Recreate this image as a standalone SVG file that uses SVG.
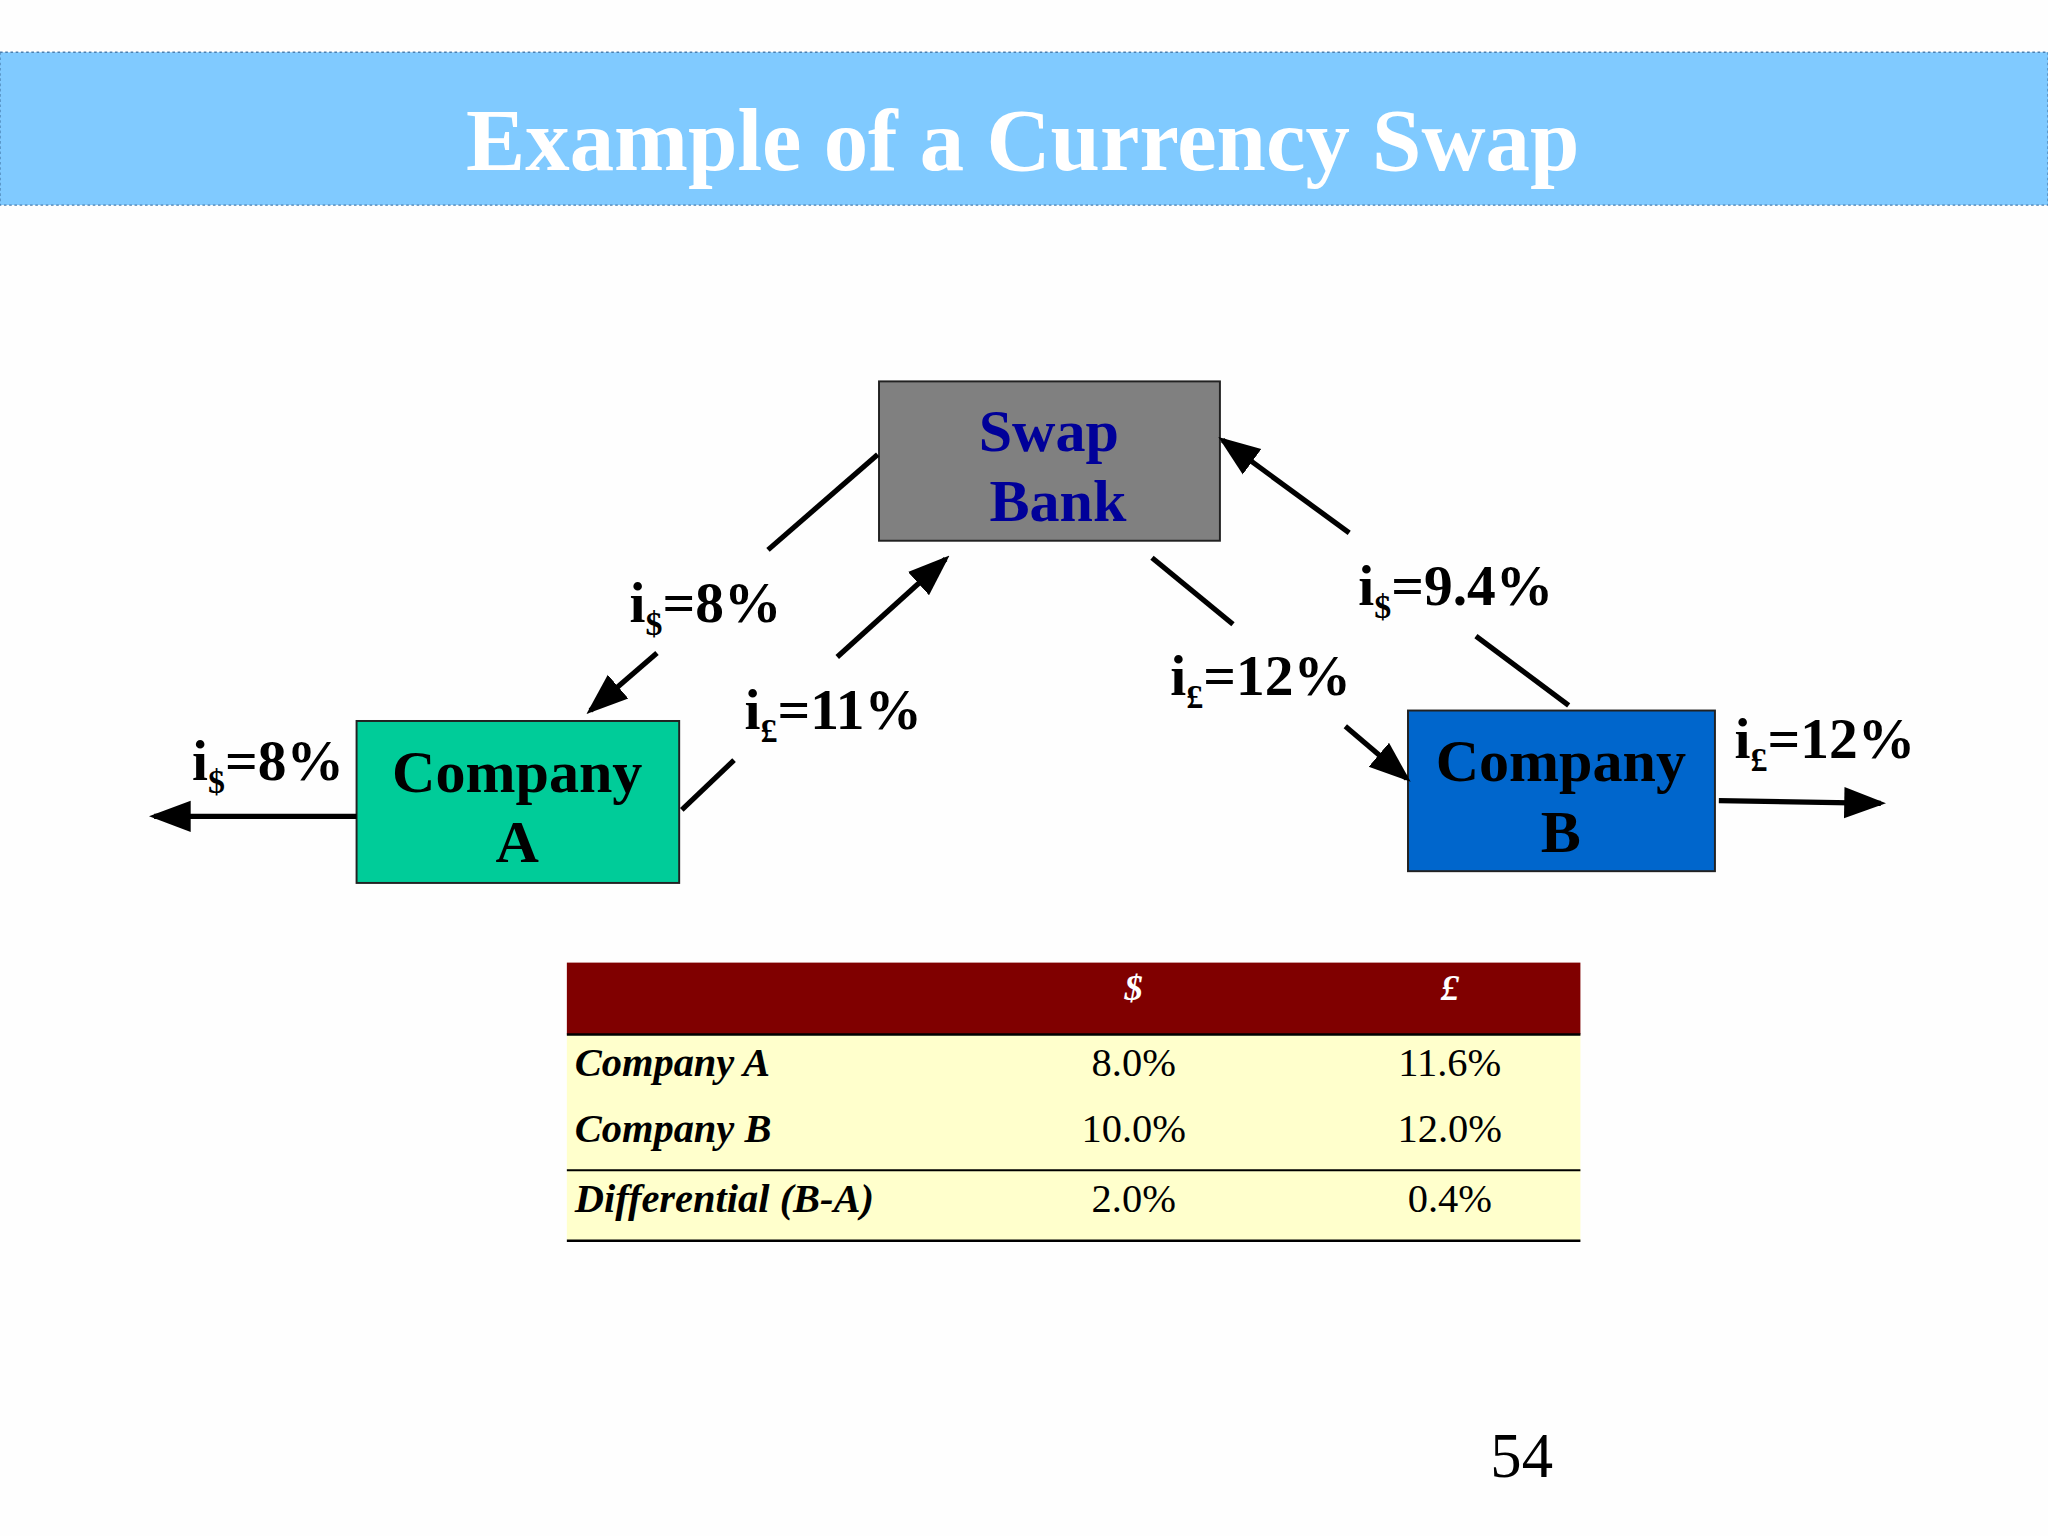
<svg xmlns="http://www.w3.org/2000/svg" width="2048" height="1536" viewBox="0 0 2048 1536">
<defs>
<marker id="ah" markerWidth="8" markerHeight="8" refX="7" refY="4" orient="auto" markerUnits="strokeWidth"><path d="M0,1 L8,4 L0,7 Z" fill="#000"/></marker>
<style>
.l{stroke:#000;stroke-width:4;fill:none}
.a{stroke:#000;stroke-width:4;fill:none;marker-end:url(#ah)}
.lb{font-family:"Liberation Serif",serif;font-weight:bold;font-size:44px;fill:#000}
.s{font-size:26px}
.nt{font-family:"Liberation Serif",serif;font-weight:bold;font-size:46px;text-anchor:middle}
.th{font-family:"Liberation Serif",serif;font-weight:bold;font-style:italic;font-size:28px;fill:#fff;text-anchor:middle}
.tl{font-family:"Liberation Serif",serif;font-weight:bold;font-style:italic;font-size:31px;fill:#000}
.tv{font-family:"Liberation Serif",serif;font-size:31px;fill:#000;text-anchor:middle}
</style>
</defs>
<rect width="2048" height="1536" fill="#fefefe"/>
<g transform="scale(1.30612)">
<rect x="0" y="40" width="1568" height="117" fill="#80CAFF" stroke="#4a7fb0" stroke-width="1" stroke-dasharray="2,2"/>
<text x="783" y="130" text-anchor="middle" font-family="Liberation Serif,serif" font-weight="bold" font-size="68" fill="#fff">Example of a Currency Swap</text>
<g id="swapbank"><rect x="673" y="292" width="261" height="122" fill="#808080" stroke="#222" stroke-width="1.5"/>
<text class="nt" fill="#000099"><tspan x="803" y="345">Swap</tspan><tspan x="810" y="399">Bank</tspan></text></g>
<g id="companyA"><rect x="273" y="552" width="247" height="124" fill="#00CC99" stroke="#222" stroke-width="1.5"/>
<text class="nt" fill="#000"><tspan x="396" y="606">Company</tspan><tspan x="396" y="660">A</tspan></text></g>
<g id="companyB"><rect x="1078" y="544" width="235" height="123" fill="#0066CC" stroke="#222" stroke-width="1.5"/>
<text class="nt" fill="#000"><tspan x="1195" y="598">Company</tspan><tspan x="1195" y="652">B</tspan></text></g>
<g id="connectors">
<line class="l" x1="672" y1="348" x2="588" y2="421"/><line class="a" x1="503" y1="500" x2="452" y2="544"/>
<line class="l" x1="522" y1="620" x2="562" y2="582"/><line class="a" x1="641" y1="503" x2="724" y2="428"/>
<line class="l" x1="882" y1="427" x2="944" y2="478"/><line class="a" x1="1030" y1="556" x2="1077" y2="596"/>
<line class="l" x1="1201" y1="540" x2="1130" y2="487"/><line class="a" x1="1033" y1="408" x2="936" y2="337"/>
<line class="a" x1="273" y1="625" x2="118" y2="625"/>
<line class="a" x1="1316" y1="613" x2="1440" y2="615"/>
<text class="lb" x="482" y="476">i<tspan class="s" dy="10">$</tspan><tspan dy="-10">=8%</tspan></text>
<text class="lb" x="570" y="558">i<tspan class="s" dy="10">£</tspan><tspan dy="-10">=11%</tspan></text>
<text class="lb" x="896" y="532">i<tspan class="s" dy="10">£</tspan><tspan dy="-10">=12%</tspan></text>
<text class="lb" x="1040" y="463">i<tspan class="s" dy="10">$</tspan><tspan dy="-10">=9.4%</tspan></text>
<text class="lb" x="147" y="597">i<tspan class="s" dy="10">$</tspan><tspan dy="-10">=8%</tspan></text>
<text class="lb" x="1328" y="580">i<tspan class="s" dy="10">£</tspan><tspan dy="-10">=12%</tspan></text>
</g>
<g id="table">
<rect x="434" y="737" width="776" height="55" fill="#800000"/>
<rect x="434" y="792" width="776" height="158" fill="#FFFFCC"/>
<line x1="434" y1="792" x2="1210" y2="792" stroke="#000" stroke-width="2"/>
<line x1="434" y1="896" x2="1210" y2="896" stroke="#000" stroke-width="1.5"/>
<line x1="434" y1="950" x2="1210" y2="950" stroke="#000" stroke-width="2"/>
<text class="th" x="868" y="766">$</text><text class="th" x="1110" y="766">£</text>
<text class="tl" x="440" y="824">Company A</text><text class="tv" x="868" y="824">8.0%</text><text class="tv" x="1110" y="824">11.6%</text>
<text class="tl" x="440" y="874">Company B</text><text class="tv" x="868" y="874">10.0%</text><text class="tv" x="1110" y="874">12.0%</text>
<text class="tl" x="440" y="928">Differential (B-A)</text><text class="tv" x="868" y="928">2.0%</text><text class="tv" x="1110" y="928">0.4%</text>
</g>
<text x="1165" y="1131" text-anchor="middle" font-family="Liberation Serif,serif" font-size="48" fill="#000">54</text>
</g>
</svg>
